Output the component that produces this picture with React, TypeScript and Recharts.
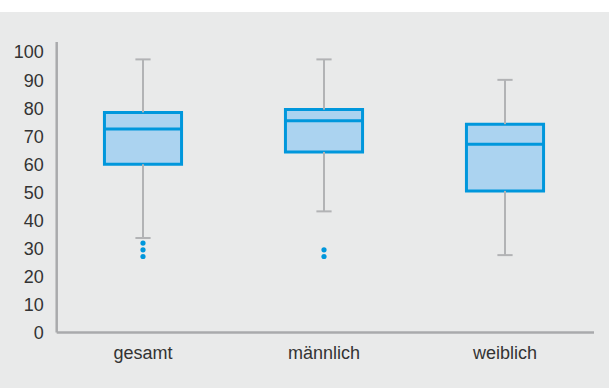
import React from "react";
import {
  ComposedChart,
  XAxis,
  YAxis,
  ReferenceArea,
  ReferenceLine,
  Scatter,
} from "recharts";

const categories = ["gesamt", "männlich", "weiblich"];
const whiskerLow = [33.7, 43.2, 27.6];
const q1Values = [60, 64.4, 50.5];
const medianValues = [72.6, 75.5, 67.1];
const q3Values = [78.5, 79.5, 74.3];
const whiskerHigh = [97.4, 97.4, 90.1];
const outlierValues = [[31.9, 29.5, 27.1], [29.5, 27.1], []];
const yTicks = [0, 10, 20, 30, 40, 50, 60, 70, 80, 90, 100];

const BOX_HALF = 0.213;
const CAP_HALF = 0.042;
const BLUE = "#0097dc";
const BOX_FILL = "#abd3f0";
const WHISKER = "#b2b3b5";
const AXIS = "#a9aaac";
const TEXT = "#333333";
const FONT = "'Liberation Sans', Arial, sans-serif";

const outlierData = outlierValues.flatMap((vals, i) =>
  vals.map((v) => ({ x: i, y: v }))
);

const OutlierDot = (props: any) => (
  <circle cx={props.cx} cy={props.cy} r={2.6} fill={BLUE} />
);

export default function App() {
  return (
    <div
      style={{
        position: "absolute",
        left: 0,
        top: 0,
        width: 609,
        height: 388,
        background: "#ffffff",
        fontFamily: FONT,
      }}
    >
      <div
        style={{
          position: "absolute",
          left: 0,
          top: 12,
          width: 609,
          height: 376,
          background: "#e9eaea",
        }}
      />
      <div style={{ position: "absolute", left: 0, top: 0 }}>
        <ComposedChart
          width={609}
          height={388}
          margin={{ top: 42, right: 15, bottom: 25.5, left: 16.7 }}
        >
          <XAxis
            type="number"
            dataKey="x"
            domain={[-0.4768, 2.4917]}
            ticks={[0, 1, 2]}
            tickFormatter={(v: number) => categories[v] ?? ""}
            tickLine={false}
            tickSize={0}
            tickMargin={14}
            height={30}
            axisLine={false}
            tick={{ fill: TEXT, fontSize: 18, fontFamily: FONT }}
            allowDataOverflow
          />
          <YAxis
            type="number"
            dataKey="y"
            domain={[0, 103.6]}
            ticks={yTicks}
            tickLine={false}
            tickSize={0}
            tickMargin={13}
            width={40}
            axisLine={{ stroke: AXIS, strokeWidth: 2.5 }}
            tick={{ fill: TEXT, fontSize: 18, fontFamily: FONT }}
            allowDataOverflow
          />
          <ReferenceLine y={0} stroke={AXIS} strokeWidth={2.5} />
          {categories.map((c, i) => (
            <ReferenceLine
              key={`wl-${c}`}
              segment={[
                { x: i, y: whiskerLow[i] },
                { x: i, y: q1Values[i] },
              ]}
              stroke={WHISKER}
              strokeWidth={2}
            />
          ))}
          {categories.map((c, i) => (
            <ReferenceLine
              key={`wh-${c}`}
              segment={[
                { x: i, y: q3Values[i] },
                { x: i, y: whiskerHigh[i] },
              ]}
              stroke={WHISKER}
              strokeWidth={2}
            />
          ))}
          {categories.map((c, i) => (
            <ReferenceLine
              key={`cl-${c}`}
              segment={[
                { x: i - CAP_HALF, y: whiskerLow[i] },
                { x: i + CAP_HALF, y: whiskerLow[i] },
              ]}
              stroke={WHISKER}
              strokeWidth={2}
            />
          ))}
          {categories.map((c, i) => (
            <ReferenceLine
              key={`ch-${c}`}
              segment={[
                { x: i - CAP_HALF, y: whiskerHigh[i] },
                { x: i + CAP_HALF, y: whiskerHigh[i] },
              ]}
              stroke={WHISKER}
              strokeWidth={2}
            />
          ))}
          {categories.map((c, i) => (
            <ReferenceArea
              key={`b-${c}`}
              x1={i - BOX_HALF}
              x2={i + BOX_HALF}
              y1={q1Values[i]}
              y2={q3Values[i]}
              fill={BOX_FILL}
              fillOpacity={1}
              stroke={BLUE}
              strokeWidth={3}
            />
          ))}
          {categories.map((c, i) => (
            <ReferenceLine
              key={`m-${c}`}
              segment={[
                { x: i - BOX_HALF, y: medianValues[i] },
                { x: i + BOX_HALF, y: medianValues[i] },
              ]}
              stroke={BLUE}
              strokeWidth={3}
            />
          ))}
          <Scatter
            data={outlierData}
            dataKey="y"
            shape={OutlierDot}
            isAnimationActive={false}
          />
        </ComposedChart>
      </div>
    </div>
  );
}
